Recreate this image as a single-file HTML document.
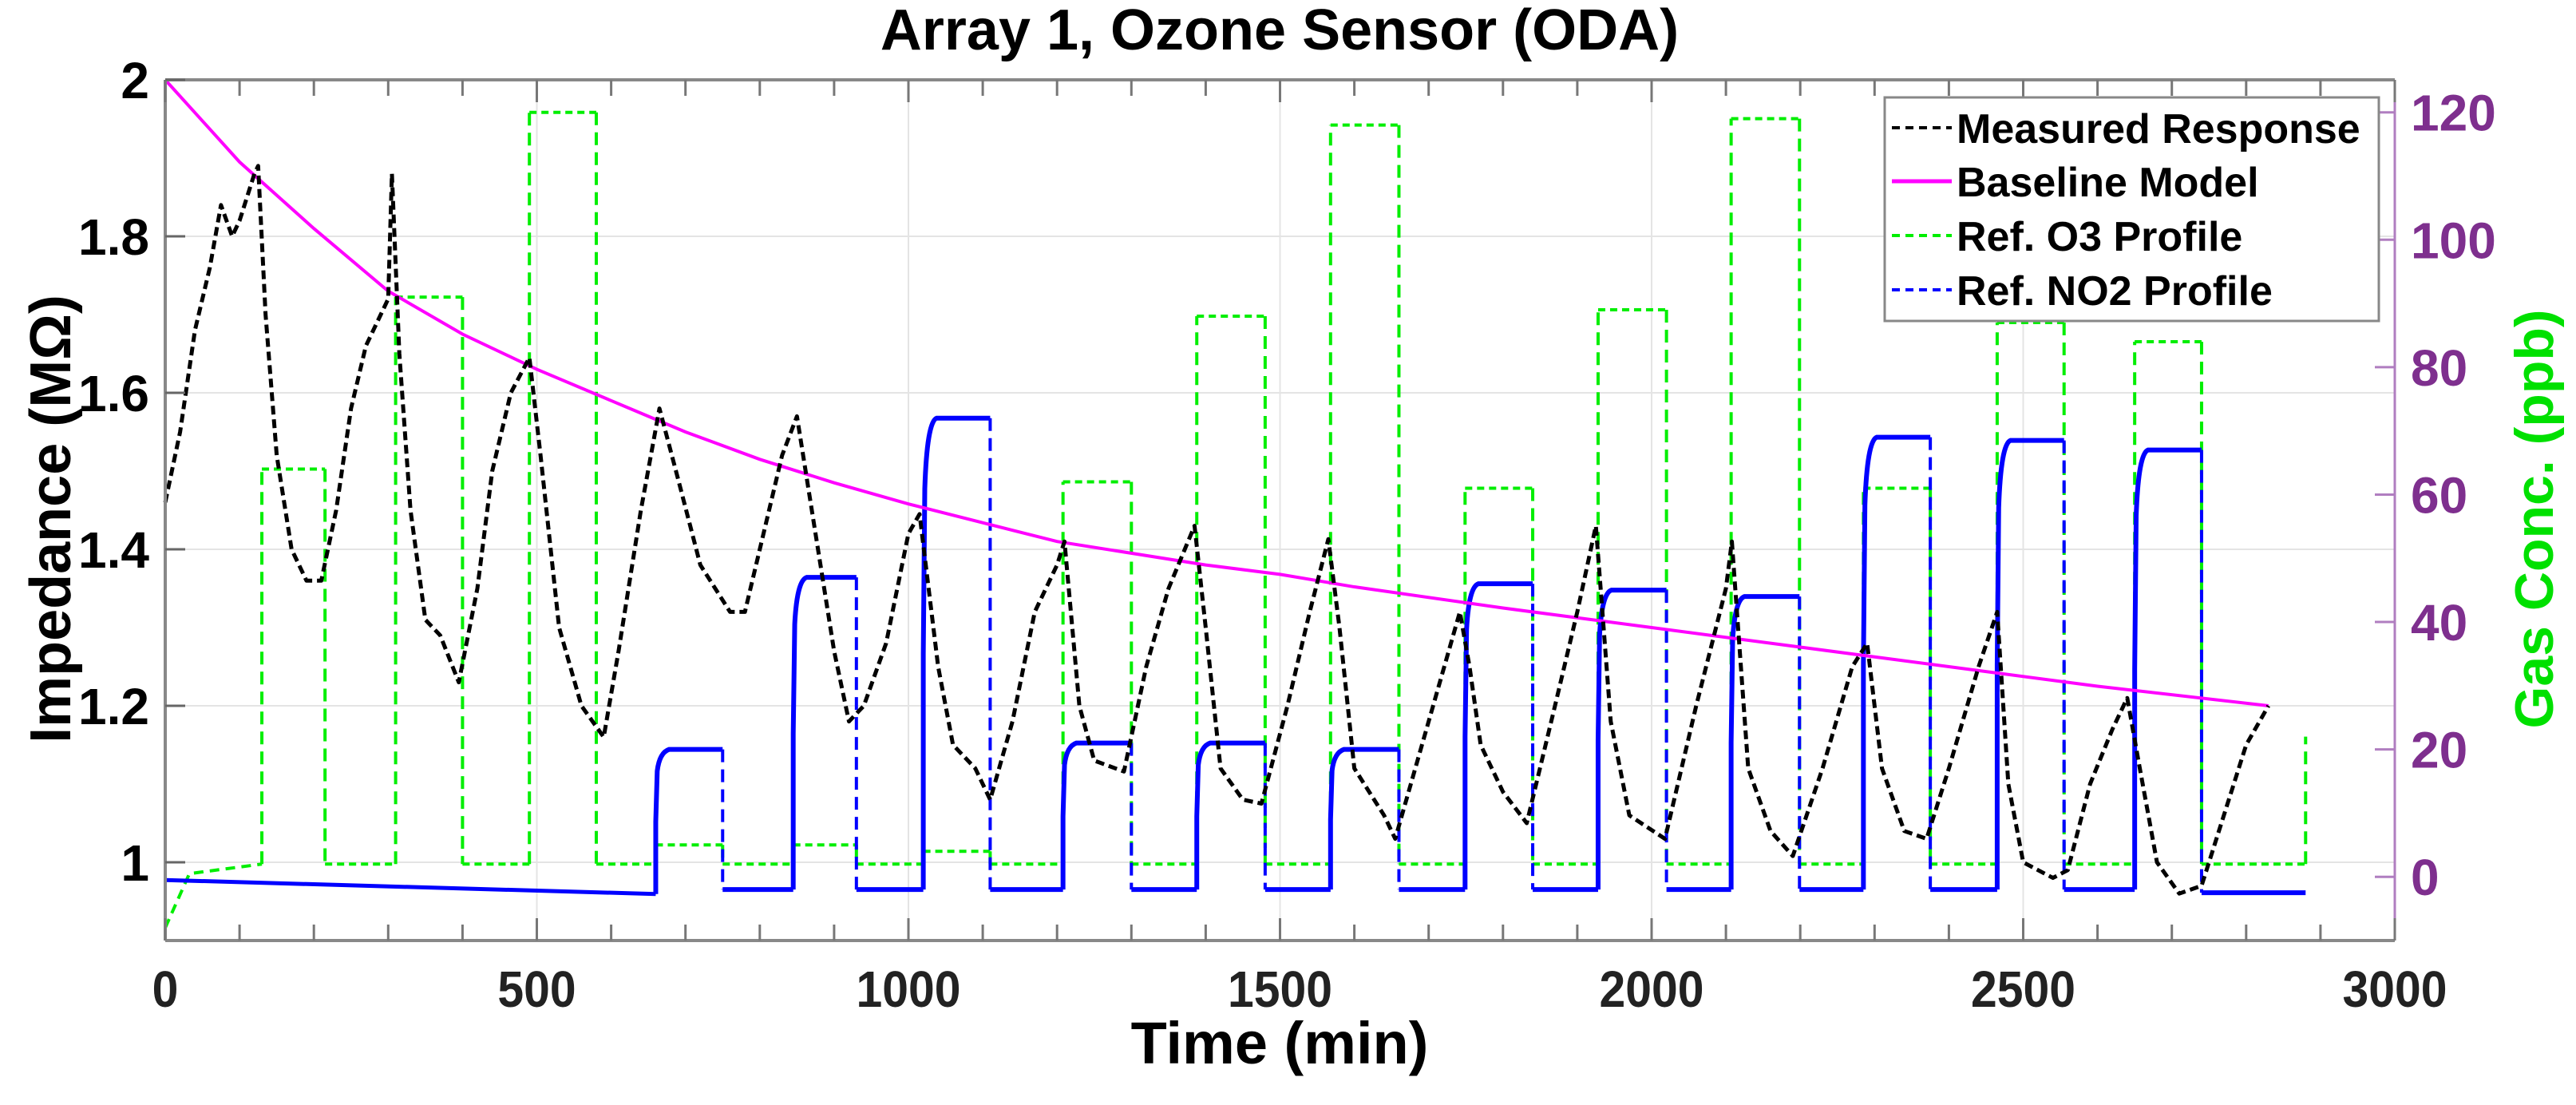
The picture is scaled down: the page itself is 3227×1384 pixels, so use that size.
<!DOCTYPE html>
<html><head><meta charset="utf-8"><style>
html,body{margin:0;padding:0;background:#fff;}
svg{display:block;font-family:"Liberation Sans",Arial,sans-serif;font-weight:bold;}
</style></head><body>
<svg id="chart" width="3227" height="1384" viewBox="0 0 3227 1384" xmlns="http://www.w3.org/2000/svg">
<rect x="0" y="0" width="3227" height="1384" fill="#fff"/>
<g id="grid"></g>
<g id="series"></g>
<g id="axes"></g>
<text x="1603" y="62" font-size="72" text-anchor="middle" fill="#000">Array 1, Ozone Sensor (ODA)</text>
<text x="1603" y="1332" font-size="74" text-anchor="middle" fill="#000">Time (min)</text>
<text transform="translate(88,650) rotate(-90)" font-size="72" text-anchor="middle" fill="#000">Impedance (MΩ)</text>
<text transform="translate(3198,650) rotate(-90)" font-size="68" text-anchor="middle" fill="#00e000">Gas Conc. (ppb)</text>
<g id="legend">
 <rect x="2361" y="122" width="619" height="280" fill="#fff" stroke="#888" stroke-width="3"/>
 <line x1="2370" y1="160" x2="2445" y2="160" stroke="#000" stroke-width="4" stroke-dasharray="10 7"/>
 <text x="2451" y="179" font-size="52" fill="#000">Measured Response</text>
 <line x1="2370" y1="227" x2="2445" y2="227" stroke="#ff00ff" stroke-width="5"/>
 <text x="2451" y="246" font-size="52" fill="#000">Baseline Model</text>
 <line x1="2370" y1="295" x2="2445" y2="295" stroke="#00ee00" stroke-width="4" stroke-dasharray="10 7"/>
 <text x="2451" y="314" font-size="52" fill="#000">Ref. O3 Profile</text>
 <line x1="2370" y1="363" x2="2445" y2="363" stroke="#0000ff" stroke-width="4" stroke-dasharray="10 7"/>
 <text x="2451" y="382" font-size="52" fill="#000">Ref. NO2 Profile</text>
</g>
</svg>
<script>
// ---- data ----
const xTicks = [0, 500, 1000, 1500, 2000, 2500, 3000];
const yLeftTicks = [1, 1.2, 1.4, 1.6, 1.8, 2];
const yLeftLabels = ["1", "1.2", "1.4", "1.6", "1.8", "2"];
const yRightTicks = [0, 20, 40, 60, 80, 100, 120];
const baselineT = [0,100,200,300,400,500,600,700,800,900,1000,1200,1400,1500,1600,1800,2000,2200,2400,2600,2830];
const baselineV = [2,1.895,1.81,1.73,1.675,1.63,1.59,1.55,1.515,1.485,1.458,1.41,1.38,1.368,1.352,1.325,1.30,1.275,1.25,1.225,1.2];
const measT = [0,20,40,60,75,90,100,120,125,135,150,170,190,210,230,250,270,290,300,305,315,330,350,370,395,420,440,465,490,505,530,560,590,610,640,665,690,720,760,780,800,830,850,870,900,920,940,970,1000,1015,1040,1060,1090,1110,1140,1170,1200,1210,1230,1250,1290,1320,1350,1385,1400,1420,1450,1475,1510,1540,1565,1580,1600,1640,1655,1700,1742,1755,1770,1800,1832,1870,1900,1925,1945,1970,2018,2060,2100,2108,2130,2160,2190,2230,2270,2290,2310,2340,2370,2400,2440,2465,2480,2500,2540,2560,2590,2620,2640,2655,2680,2710,2740,2760,2800,2830];
const measV = [1.46,1.55,1.68,1.76,1.84,1.80,1.82,1.88,1.89,1.70,1.52,1.40,1.36,1.36,1.45,1.58,1.66,1.70,1.72,1.88,1.65,1.45,1.31,1.29,1.23,1.35,1.50,1.60,1.645,1.52,1.30,1.20,1.16,1.27,1.45,1.58,1.49,1.38,1.32,1.32,1.40,1.52,1.57,1.45,1.27,1.18,1.20,1.28,1.42,1.445,1.25,1.15,1.12,1.08,1.18,1.32,1.38,1.41,1.20,1.13,1.116,1.25,1.35,1.43,1.30,1.12,1.08,1.075,1.20,1.32,1.413,1.30,1.12,1.06,1.03,1.18,1.32,1.25,1.15,1.09,1.05,1.20,1.32,1.43,1.18,1.06,1.03,1.20,1.35,1.41,1.12,1.04,1.008,1.12,1.25,1.28,1.12,1.04,1.03,1.12,1.25,1.32,1.10,1.00,0.98,0.99,1.10,1.17,1.21,1.13,1.00,0.96,0.97,1.03,1.15,1.20];
const o3Edges = [130,215,310,400,490,580,660,750,845,930,1020,1110,1208,1300,1388,1480,1568,1660,1749,1840,1928,2020,2107,2199,2285,2375,2465,2555,2650,2740,2880];
const o3Levels = [64,2,91,2,120,2,5,2,5,2,4,2,62,2,88,2,118,2,61,2,89,2,119,2,61,2,87,2,84,2];
const o3Start = [-8, 2];
const o3End = 22;
const no2Edges = [660,750,845,930,1020,1110,1208,1300,1388,1480,1568,1660,1749,1840,1928,2020,2107,2199,2285,2375,2465,2555,2650,2740,2880];
const no2Levels = [20,-2,47,-2,72,-2,21,-2,21,-2,20,-2,46,-2,45,-2,44,-2,69,-2,68.5,-2,67,-2.5];
const no2Start = [-0.5, -2.7];

// ---- axes ----
const L=207,R=3000,T=100,B=1178;
const X=t=>L+(t-0)/3000*(R-L);
const YL=v=>T+(2-v)/(2-0.9)*(B-T);
const YR=v=>T+(125.1-v)/(125.1+10)*(B-T);
const NS="http://www.w3.org/2000/svg";
function mk(tag,attrs,parent){const e=document.createElementNS(NS,tag);for(const k in attrs)e.setAttribute(k,attrs[k]);parent.appendChild(e);return e;}
const grid=document.getElementById('grid'),axes=document.getElementById('axes'),series=document.getElementById('series');

xTicks.forEach(t=>{const g=mk('line',{x1:X(t),x2:X(t),y1:T,y2:B,stroke:'#e4e4e4','stroke-width':2},grid);

});
yLeftTicks.forEach(v=>{const g=mk('line',{x1:L,x2:R,y1:YL(v),y2:YL(v),stroke:'#e4e4e4','stroke-width':2},grid);

});

[[L,T,R,T],[L,B,R,B],[L,T,L,B]].forEach(a=>{const e=mk('line',{x1:a[0],y1:a[1],x2:a[2],y2:a[3],stroke:'#888','stroke-width':4},axes);

});
const ra=mk('line',{x1:R,y1:T,x2:R,y2:B,stroke:'#b07ec0','stroke-width':3},axes);


for(let t=0;t<=3000;t+=100){const len=(t%500===0)?28:20;
mk('line',{x1:X(t),x2:X(t),y1:B,y2:B-len,stroke:'#777','stroke-width':3},axes);
mk('line',{x1:X(t),x2:X(t),y1:T,y2:T+len,stroke:'#777','stroke-width':3},axes);}
xTicks.forEach(t=>{const e=mk('text',{x:X(t),y:1261,'font-size':64,'text-anchor':'middle',fill:'#222',transform:'translate('+X(t)+',0) scale(0.92,1) translate('+(-X(t))+',0)'},axes);e.textContent=String(t);

});
yLeftTicks.forEach((v,i)=>{mk('line',{x1:L,x2:L+25,y1:YL(v),y2:YL(v),stroke:'#666','stroke-width':3},axes);
const e=mk('text',{x:187,y:YL(v)+23,'font-size':64,'text-anchor':'end',fill:'#000'},axes);e.textContent=yLeftLabels[i];

});
yRightTicks.forEach(v=>{mk('line',{x1:R-25,x2:R,y1:YR(v),y2:YR(v),stroke:'#b07ec0','stroke-width':3},axes);
const e=mk('text',{x:3020,y:YR(v)+23,'font-size':64,fill:'#7e2f8e'},axes);e.textContent=String(v);

});

// ---- series ----
function stepPaths(edges,levels,start,color,name){
  let d='M'+X(0)+','+YR(start[0])+' L'+X(edges[0]*0.25)+','+YR(start[1]-1.5)+' L'+X(edges[0])+','+YR(start[1]);
  let prev=start[1];
  const vert=[], hor=[];
  for(let i=0;i<levels.length;i++){
    vert.push([edges[i],prev,levels[i]]);
    hor.push([edges[i],edges[i+1],levels[i]]);
    prev=levels[i];
  }
  const p=mk('path',{d:d,fill:'none',stroke:color,'stroke-width':4,'stroke-dasharray':'12 8'},series);
  
  
  let dv='';vert.forEach(v=>{dv+='M'+X(v[0])+','+YR(v[1])+' L'+X(v[0])+','+YR(v[2])+' ';});
  const pv=mk('path',{d:dv,fill:'none',stroke:color,'stroke-width':4,'stroke-dasharray':'16 9'},series);
  
  
  let dh='';hor.forEach(h=>{dh+='M'+X(h[0])+','+YR(h[2])+' L'+X(h[1])+','+YR(h[2])+' ';});
  const ph=mk('path',{d:dh,fill:'none',stroke:color,'stroke-width':4,'stroke-dasharray':'9 6'},series);
  
  
}
stepPaths(o3Edges,o3Levels,o3Start,'#00ee00','o3-profile');
const o3e=mk('line',{x1:X(o3Edges[o3Edges.length-1]),x2:X(o3Edges[o3Edges.length-1]),y1:YR(2),y2:YR(o3End),stroke:'#00ee00','stroke-width':4,'stroke-dasharray':'16 9'},series);


(function(){
  let d='M'+X(0)+','+YR(no2Start[0])+' L'+X(no2Edges[0])+','+YR(no2Start[1]);
  const p=mk('path',{d:d,fill:'none',stroke:'#0000ff','stroke-width':5},series);
  
  
  let prev=no2Start[1],dv='',dh='';
  for(let i=0;i<no2Levels.length;i++){
    const lv=no2Levels[i];
    if(lv>prev){
      dh+='M'+X(no2Edges[i])+','+YR(prev)+' L'+X(no2Edges[i])+','+YR(prev+(lv-prev)*0.5)+' L'+X(no2Edges[i]+2)+','+YR(prev+(lv-prev)*0.85)+' Q'+X(no2Edges[i]+5)+','+YR(lv-0.5)+' '+X(no2Edges[i]+18)+','+YR(lv)+' L'+X(no2Edges[i+1])+','+YR(lv)+' ';
    } else {
      dv+='M'+X(no2Edges[i])+','+YR(prev)+' L'+X(no2Edges[i])+','+YR(lv)+' ';
      dh+='M'+X(no2Edges[i])+','+YR(lv)+' L'+X(no2Edges[i+1])+','+YR(lv)+' ';
    }
    prev=lv;
  }
  const pv=mk('path',{d:dv,fill:'none',stroke:'#0000ff','stroke-width':4,'stroke-dasharray':'16 9'},series);
  
  
  const ph=mk('path',{d:dh,fill:'none',stroke:'#0000ff','stroke-width':6},series);
  
  
})();
(function(){
  let d='';baselineT.forEach((t,i)=>{d+=(i?'L':'M')+X(t)+','+YL(baselineV[i])+' ';});
  const p=mk('path',{d:d,fill:'none',stroke:'#ff00ff','stroke-width':4},series);
  
  
})();
(function(){
  let d='';measT.forEach((t,i)=>{d+=(i?'L':'M')+X(t)+','+YL(measV[i])+' ';});
  const p=mk('path',{d:d,fill:'none',stroke:'#000','stroke-width':5,'stroke-dasharray':'11 6','stroke-linejoin':'round'},series);
  
  
})();
</script>
</body></html>
